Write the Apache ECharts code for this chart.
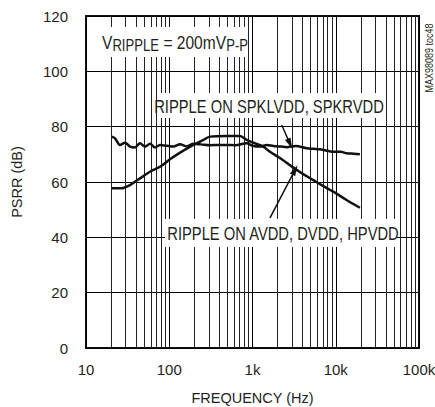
<!DOCTYPE html>
<html>
<head>
<meta charset="utf-8">
<script src="https://cdn.jsdelivr.net/npm/echarts@6/dist/echarts.min.js"></script>
<style>
  html, body { margin: 0; padding: 0; background: #fff; }
  #chart { width: 435px; height: 407px; }
</style>
</head>
<body>
<div id="chart"></div>
<script>
// 频率刻度标签
var freqTicks = [10, 100, 1000, 10000, 100000];
var freqTickLabels = ['10', '100', '1k', '10k', '100k'];

// RIPPLE ON SPKLVDD, SPKRVDD
var spkFreq = [20.3, 22.3, 25.6, 29.4, 33.8, 38.8, 44.5, 51.1, 58.7, 67.4, 77.4, 93.1, 112, 135, 162, 195, 240, 308, 400, 490, 620, 851, 1000, 1230, 1500, 1778, 2200, 2570, 3300, 4480, 5500, 6470, 8000, 9350, 11500, 13500, 16500, 19500];
var spkPsrr = [76.4, 75.8, 73.4, 74.2, 72.8, 72.5, 74.0, 72.8, 73.8, 72.5, 73.4, 73.1, 72.8, 73.6, 72.9, 73.8, 73.6, 73.3, 73.4, 73.4, 73.3, 74.0, 73.1, 72.8, 73.4, 73.0, 72.8, 72.6, 73.0, 72.2, 72.0, 71.8, 71.3, 70.9, 70.9, 70.4, 70.2, 70.0];

// RIPPLE ON AVDD, DVDD, HPVDD
var avddFreq = [20.3, 26.8, 33.8, 44.5, 58.7, 77.4, 102, 135, 195, 257, 308, 490, 708, 851, 1023, 1349, 1622, 2200, 3090, 4000, 5370, 7000, 9350, 13500, 19500];
var avddPsrr = [57.7, 57.7, 58.9, 61.3, 63.7, 65.5, 68.2, 70.6, 73.4, 75.2, 76.4, 76.6, 76.6, 75.2, 74.2, 72.8, 70.9, 68.4, 65.2, 63.0, 60.7, 58.6, 56.5, 53.5, 50.7];

var FONT = '"Liberation Sans", Arial, sans-serif';
var TXT = '#231f20';
var NARROW = 0.82;   // 模拟窄体字

function pairs(xs, ys) {
    var out = [];
    for (var i = 0; i < xs.length; i++) out.push([xs[i], ys[i]]);
    return out;
}

// 次网格线 2..9 每个十倍频
var minorLines = [];
for (var d = 10; d < 100000; d *= 10) {
    for (var m = 2; m <= 9; m++) minorLines.push({ xAxis: d * m });
}

var chart = echarts.init(document.getElementById('chart'), null, { renderer: 'svg' });

var option = {
    animation: false,
    grid: {
        left: 86, right: 16, top: 16, bottom: 59,
        show: true, borderColor: '#111', borderWidth: 2,
        containLabel: false,
        outerBoundsMode: 'none'
    },
    xAxis: {
        type: 'log', logBase: 10, min: 10, max: 100000,
        name: 'FREQUENCY (Hz)', nameLocation: 'middle', nameGap: 42,
        nameTextStyle: { fontFamily: FONT, fontSize: 14.5, color: TXT },
        axisLine: { show: false },
        axisTick: { show: false },
        splitLine: { show: true, lineStyle: { color: '#000', width: 1 } },
        axisLabel: {
            fontFamily: FONT, fontSize: 15, color: TXT, margin: 14,
            formatter: function (v) {
                var i = freqTicks.indexOf(Math.round(v));
                return i >= 0 ? freqTickLabels[i] : '';
            }
        }
    },
    yAxis: {
        type: 'value', min: 0, max: 120, interval: 20,
        name: 'PSRR (dB)', nameLocation: 'middle', nameGap: 62, nameRotate: 90,
        nameTextStyle: { fontFamily: FONT, fontSize: 14.5, color: TXT },
        axisLine: { show: false },
        axisTick: { show: false },
        splitLine: { show: true, lineStyle: { color: '#000', width: 1 } },
        axisLabel: { fontFamily: FONT, fontSize: 15, color: TXT, margin: 18 }
    },
    series: [{
        name: 'grid',
        type: 'line',
        data: [],
        silent: true,
        markLine: {
            silent: true, symbol: 'none', label: { show: false },
            lineStyle: { color: '#222', width: 1, type: 'solid' },
            data: minorLines
        }
    }, {
        name: 'SPKLVDD',
        type: 'line',
        data: pairs(spkFreq, spkPsrr),
        showSymbol: false,
        smooth: 0.3,
        lineStyle: { color: '#111', width: 2.5 },
        z: 5,
        markLine: {
            silent: true, label: { show: false },
            lineStyle: { color: '#111', width: 1.5, type: 'solid' },
            data: [[
                { coord: [2244, 80.6], symbol: 'none' },
                { coord: [2820, 73.8], symbol: 'triangle', symbolSize: [6, 11] }
            ]]
        }
    }, {
        name: 'AVDD',
        type: 'line',
        data: pairs(avddFreq, avddPsrr),
        showSymbol: false,
        smooth: 0.3,
        lineStyle: { color: '#111', width: 2.5 },
        z: 5,
        markLine: {
            silent: true, label: { show: false },
            lineStyle: { color: '#111', width: 1.5, type: 'solid' },
            data: [[
                { coord: [1622, 47], symbol: 'none' },
                { coord: [3240, 64.3], symbol: 'triangle', symbolSize: [6, 11] }
            ]]
        }
    }],
    graphic: [{
        type: 'rect', z: 99,
        shape: { x: 88, y: 27, width: 157, height: 30 },
        style: { fill: '#fff' }
    }, {
        type: 'text', x: 102, y: 42, z: 100, scaleX: NARROW,
        style: {
            text: '{v|V}{s|RIPPLE}{v| = 200mV}{s|P-P}',
            verticalAlign: 'middle',
            rich: {
                v: { fontFamily: FONT, fontSize: 19, fill: TXT, lineHeight: 22 },
                s: { fontFamily: FONT, fontSize: 16, fill: TXT, lineHeight: 22, padding: [7, 0, 0, 0] }
            }
        }
    }, {
        type: 'rect', z: 99,
        shape: { x: 158, y: 93, width: 222, height: 25 },
        style: { fill: '#fff' }
    }, {
        type: 'text', x: 269, y: 106, z: 100, scaleX: NARROW,
        style: {
            text: 'RIPPLE ON SPKLVDD, SPKRVDD',
            fontFamily: FONT, fontSize: 18, fill: TXT,
            align: 'center', verticalAlign: 'middle'
        }
    }, {
        type: 'rect', z: 99,
        shape: { x: 165, y: 219, width: 232, height: 28 },
        style: { fill: '#fff' }
    }, {
        type: 'text', x: 283, y: 233, z: 100, scaleX: NARROW,
        style: {
            text: 'RIPPLE ON AVDD, DVDD, HPVDD',
            fontFamily: FONT, fontSize: 18, fill: TXT,
            align: 'center', verticalAlign: 'middle'
        }
    }, {
        type: 'text', x: 429, y: 58, rotation: Math.PI / 2, z: 100, scaleX: NARROW,
        style: {
            text: 'MAX98089 toc48',
            fontFamily: FONT, fontSize: 11, fill: TXT,
            align: 'center', verticalAlign: 'middle'
        }
    }]
};

chart.setOption(option);
</script>
</body>
</html>
